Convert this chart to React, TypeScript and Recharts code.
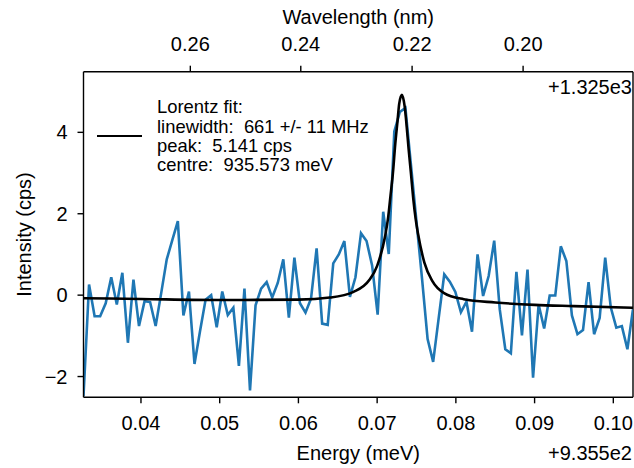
import { LineChart, Line, XAxis, YAxis, ReferenceLine, Label } from 'recharts';

// energy axis is drawn relative to the +9.355e2 meV offset
const X_MIN = 0.0327;
const X_MAX = 0.1025;
const X_STEP = 0.000705;

const ENERGY_TICKS = [0.04, 0.05, 0.06, 0.07, 0.08, 0.09, 0.1];
const INTENSITY_TICKS = [-2, 0, 2, 4];

// top axis: wavelength (offset +1.325e3 nm), tick positions on the energy scale
const WAVE_TICK_POS = [0.04627, 0.0603, 0.07444, 0.08854];
const WAVE_TICK_LABELS = ['0.26', '0.24', '0.22', '0.20'];

// measured intensity (cps), one value per energy step
const INTENSITY = [
  -2.48, 0.26, -0.52, -0.52, -0.2, 0.44, -0.23, 0.55, -1.17, 0.38,
  -0.76, -0.15, -0.17, -0.76, 0.05, 0.88, 1.35, 1.82, -0.5, 0.09,
  -1.69, -0.88, -0.11, 0.0, -0.79, 0.09, -0.49, -0.31, -1.74, 0.16,
  -2.34, -0.25, 0.16, 0.32, -0.06, 0.3, 0.88, -0.55, 0.92, -0.2,
  -0.43, -0.08, 1.15, -0.7, -0.73, 0.78, 1.0, 1.33, -0.04, 0.44,
  1.52, 1.33, 0.73, -0.48, 2.05, 1.01, 4.02, 4.5, 4.6, 3.2,
  1.8, 0.4, -1.08, -1.64, -0.56, 0.51, 0.33, 0.08, -0.42, -0.16,
  -0.9, 1.0, -0.02, 0.47, 1.34, -0.35, -1.33, -1.43, 0.57, -0.99,
  0.63, -2.03, -0.23, -0.82, -0.01, -0.01, 1.2, 0.84, -0.5, -0.96,
  -0.86, 0.32, -0.96, -0.56, 0.92, -0.3, -0.8, -0.76, -1.33, -0.35,
];

// Lorentz fit curve
const FIT_X = [
  0.0327, 0.04, 0.05, 0.06, 0.064, 0.067, 0.069, 0.07, 0.071, 0.0714,
  0.0717, 0.072, 0.0723, 0.0726, 0.0728, 0.07314, 0.0735, 0.0737, 0.074, 0.0743,
  0.0746, 0.0749, 0.0752, 0.076, 0.077, 0.0785, 0.081, 0.085, 0.09, 0.095, 0.1025,
];
const FIT_Y = [
  -0.075, -0.095, -0.12, -0.11, -0.06, 0.08, 0.37, 0.72, 1.44, 1.91,
  2.45, 2.99, 3.71, 4.3, 4.7, 4.92, 4.63, 4.26, 3.59, 2.98,
  2.35, 1.86, 1.5, 0.8, 0.35, 0.05, -0.1, -0.18, -0.24, -0.27, -0.31,
];

const measured = INTENSITY.map((y, i) => ({ x: X_MIN + i * X_STEP, y }));
const fit = FIT_X.map((x, i) => ({ x, y: FIT_Y[i] }));

const FONT = '"Liberation Sans", Arial, sans-serif';
const tickStyle = { fontSize: 20, fill: '#000', fontFamily: FONT };
const labelStyle = { fontSize: 20, fill: '#000', fontFamily: FONT };
const lineStyle = { stroke: '#000', strokeWidth: 1.4 };

const minus = (v: number) => (v < 0 ? '\u2212' + Math.abs(v) : String(v));

export default function App() {
  return (
    <div style={{ position: 'absolute', left: 0, top: 0, width: 634, height: 468, fontFamily: FONT, color: '#000' }}>
      <LineChart width={634} height={468} margin={{ top: 0, right: 1, bottom: 0, left: 0 }}>
        <XAxis
          xAxisId="b"
          type="number"
          dataKey="x"
          domain={[X_MIN, X_MAX]}
          allowDataOverflow
          ticks={ENERGY_TICKS}
          tickFormatter={(v: number) => v.toFixed(2)}
          height={70.7}
          tickSize={6}
          tickMargin={12.5}
          tick={tickStyle}
          tickLine={lineStyle}
          axisLine={lineStyle}
        >
          <Label value="Energy (meV)" position="insideBottom" offset={7.8} style={labelStyle} />
        </XAxis>
        <XAxis
          xAxisId="t"
          orientation="top"
          type="number"
          dataKey="x"
          domain={[X_MIN, X_MAX]}
          allowDataOverflow
          ticks={WAVE_TICK_POS}
          tickFormatter={(_v: number, i: number) => WAVE_TICK_LABELS[i]}
          height={71.7}
          tickSize={6}
          tickMargin={14.5}
          tick={tickStyle}
          tickLine={lineStyle}
          axisLine={lineStyle}
        >
          <Label value="Wavelength (nm)" position="insideTop" offset={10} style={labelStyle} />
        </XAxis>
        <YAxis
          type="number"
          domain={[-2.51, 5.49]}
          allowDataOverflow
          ticks={INTENSITY_TICKS}
          tickFormatter={minus}
          width={83.5}
          tickSize={6}
          tickMargin={10}
          tick={tickStyle}
          tickLine={lineStyle}
          axisLine={lineStyle}
        >
          <Label
            value="Intensity (cps)"
            angle={-90}
            position="insideLeft"
            offset={24}
            textAnchor="middle"
            style={labelStyle}
          />
        </YAxis>
        <ReferenceLine xAxisId="b" x={X_MAX} stroke="#000" strokeWidth={1.4} />
        <Line
          xAxisId="b"
          data={measured}
          dataKey="y"
          type="linear"
          stroke="#1f77b4"
          strokeWidth={2.6}
          dot={false}
          isAnimationActive={false}
        />
        <Line
          xAxisId="b"
          data={fit}
          dataKey="y"
          type="monotone"
          stroke="#000"
          strokeWidth={2.6}
          dot={false}
          isAnimationActive={false}
        />
      </LineChart>

      {/* offset labels, matplotlib style */}
      <div style={{ position: 'absolute', right: 2, top: 75.5, fontSize: 20, lineHeight: '22px' }}>+1.325e3</div>
      <div style={{ position: 'absolute', right: 2, top: 442, fontSize: 20, lineHeight: '22px' }}>+9.355e2</div>

      {/* legend */}
      <div style={{ position: 'absolute', left: 97, top: 134.7, width: 45, height: 2.6, background: '#000' }} />
      <div style={{ position: 'absolute', left: 157, top: 97.3, fontSize: 18.4, lineHeight: '19.33px', whiteSpace: 'pre' }}>
        {'Lorentz fit:\nlinewidth:  661 +/- 11 MHz\npeak:  5.141 cps\ncentre:  935.573 meV'}
      </div>
    </div>
  );
}
